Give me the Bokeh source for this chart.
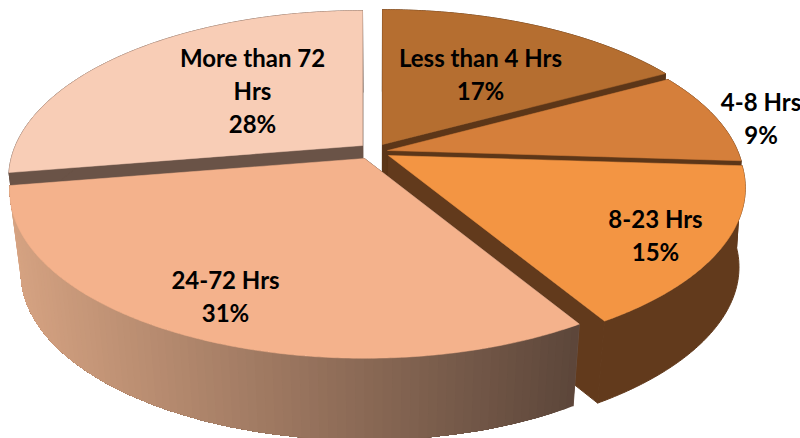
import math
from bokeh.plotting import figure
from bokeh.models import Range1d
from bokeh.core.properties import value
from bokeh.embed import file_html
from bokeh.resources import INLINE

# --- data -------------------------------------------------------------
categories = ["Less than 4 Hrs", "4-8 Hrs", "8-23 Hrs", "24-72 Hrs", "More than 72 Hrs"]
shares = [17.0, 9.0, 15.4, 31.0, 27.6]
pct_labels = ["17%", "9%", "15%", "31%", "28%"]

# --- styling ----------------------------------------------------------
top_colors = ["#b56e30", "#d57f3b", "#f39543", "#f4b28c", "#f8cdb6"]
wall_colors = ["#5c3618", "#5c3618", "#623a1c", "#6a5347", "#6a5347"]
apex = [(382, 144), (387, 150), (388, 155), (364, 158), (362, 145)]
radius_x = [353, 350, 350, 348, 347]
RY, K, DEPTH, CX = 161.0, 0.194, 82.0, 375.0
GRAD_L, GRAD_R = (214, 163, 130), (92, 70, 58)

p = figure(width=800, height=438, output_backend="svg", toolbar_location=None,
           x_range=Range1d(0, 800), y_range=Range1d(438, 0), min_border=0)
p.axis.visible = False
p.grid.visible = False
p.outline_line_color = None


def proj(deg, i):
    a = math.radians(deg)
    u, v = math.sin(a), math.cos(a)
    w = 1 + K * v
    return apex[i][0] + radius_x[i] * u / w, apex[i][1] - RY * v / w


def drop(pt):
    t = 0.97
    if pt[0] > CX:
        t = 0.985 - 0.015 * min(1, max(0, (pt[1] - 165) / 155))
    return CX + (pt[0] - CX) * t, pt[1] + DEPTH


def poly(pts, color, lw=1.0):
    p.patch([q[0] for q in pts], [q[1] for q in pts], fill_color=color,
            line_color=color, line_width=lw)


def hex_mix(t):
    t = min(1, max(0, t))
    return "#%02x%02x%02x" % tuple(round(a + (b - a) * t) for a, b in zip(GRAD_L, GRAD_R))


total = sum(shares)
bounds = [0.0]
for s in shares:
    bounds.append(bounds[-1] + 360.0 * s / total)

for i in [4, 0, 1, 2, 3]:
    a0, a1 = bounds[i], bounds[i + 1]
    n = max(8, int((a1 - a0) * 2))
    angs = [a0 + (a1 - a0) * j / n for j in range(n + 1)]
    arc = [proj(a, i) for a in angs]
    ap = apex[i]
    # cut faces
    poly([ap, arc[0], drop(arc[0]), drop(ap)], wall_colors[i])
    poly([ap, arc[-1], drop(arc[-1]), drop(ap)], wall_colors[i])
    # outer side
    if i == 3:
        fine = 90
        pts = [proj(a0 + (a1 - a0) * j / fine, i) for j in range(fine + 1)]
        for j in range(fine):
            rest = pts[j:]
            t = (((pts[j][0] + pts[j + 1][0]) / 2) - 8) / (578 - 8)
            poly(rest + [drop(q) for q in reversed(rest)], hex_mix(t), lw=0)
    else:
        poly(arc + [drop(q) for q in reversed(arc)], wall_colors[i])
    # top face
    poly([ap] + arc, top_colors[i], lw=0.5)

# --- labels -----------------------------------------------------------
label_lines = [
    [categories[0], pct_labels[0]],
    [categories[1], pct_labels[1]],
    [categories[2], pct_labels[2]],
    [categories[3], pct_labels[3]],
    ["More than 72", "Hrs", pct_labels[4]],
]
label_pos = [(480, 57), (760.5, 101), (655, 218), (225, 279), (252, 57)]
for lines, (lx, ly) in zip(label_lines, label_pos):
    p.text(x=[lx] * len(lines), y=[ly + 33 * k for k in range(len(lines))], text=lines,
           text_font=value("Lato"), text_font_style="bold", text_font_size="24px",
           text_color="#000000", text_align="center", text_baseline="middle")

open("out.html", "w").write(file_html(p, INLINE))
